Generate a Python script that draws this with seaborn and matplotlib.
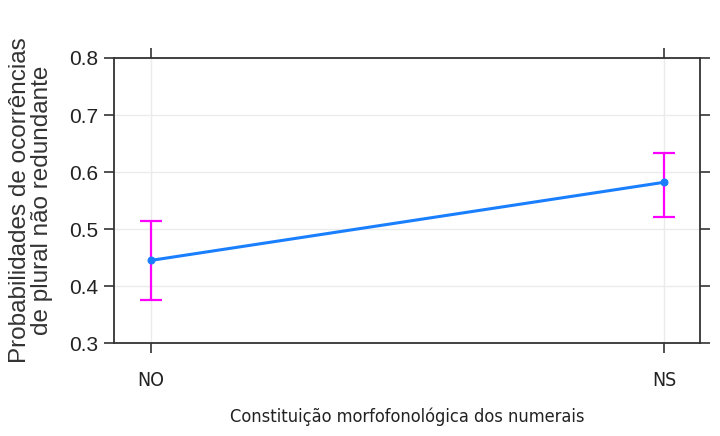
import matplotlib
matplotlib.use("Agg")
import matplotlib.pyplot as plt
import seaborn as sns
import pandas as pd
from matplotlib import font_manager

# Data
categories = ["NO", "NS"]
prob = [0.445, 0.582]
lower = [0.375, 0.521]
upper = [0.515, 0.633]

sns.set_theme(style="white")
plt.rcParams["font.family"] = ["Liberation Sans", "DejaVu Sans"]

# look for a narrow face for the x axis texts (reference is horizontally squeezed)
narrow = None
for f in font_manager.fontManager.ttflist:
    low = f.fname.lower()
    if ("narrow" in low or "condensed" in low) and f.style == "normal" and f.weight in (400, "normal", "regular"):
        if narrow is None or "liberation" in low:
            narrow = f.fname

def xfont(size):
    if narrow:
        return dict(fontproperties=font_manager.FontProperties(fname=narrow, size=size))
    return dict(fontsize=size * 0.9)

df = pd.DataFrame({"cat": categories, "prob": prob})
df["x"] = range(len(categories))

fig = plt.figure(figsize=(7.2, 4.36), dpi=100)
ax = fig.add_axes([0.158, 0.213, 0.814, 0.654])

yerr = [[p - l for p, l in zip(prob, lower)], [u - p for p, u in zip(prob, upper)]]
ax.errorbar(df["x"], df["prob"], yerr=yerr, fmt="none", ecolor="#ff00ff",
            elinewidth=1.6, capsize=8, capthick=1.6, zorder=2)
sns.lineplot(data=df, x="x", y="prob", ax=ax, color="#1a7fff", linewidth=2.2,
             marker="o", markersize=5, markeredgecolor="#1a7fff", zorder=3)

ax.set_xlim(-0.072, 1.07)
ax.set_ylim(0.3, 0.8)
ax.set_xticks(df["x"])
ax.set_xticklabels(categories, color="#222222", **xfont(14))
ax.set_yticks([0.3, 0.4, 0.5, 0.6, 0.7, 0.8])
ax.grid(True, color="#ebebeb", linewidth=1)
ax.set_axisbelow(True)

for s in ax.spines.values():
    s.set_color("#333333")
    s.set_linewidth(1.3)

ax.tick_params(axis="y", which="both", left=True, right=True, direction="out",
               length=7, width=1.2, color="#333333", labelsize=15, pad=4,
               labelcolor="#222222")
ax.tick_params(axis="x", which="both", bottom=True, top=True, direction="out",
               length=7, width=1.2, color="#333333", pad=13)

ax.set_xlabel("Constituição morfofonológica dos numerais", labelpad=13,
              color="#222222", **xfont(13.1))
ax.set_ylabel("Probabilidades de ocorrências\nde plural não redundante", fontsize=17.5,
              labelpad=12, color="#333333", linespacing=1.0)

fig.savefig("out.png", dpi=100, facecolor="white")
